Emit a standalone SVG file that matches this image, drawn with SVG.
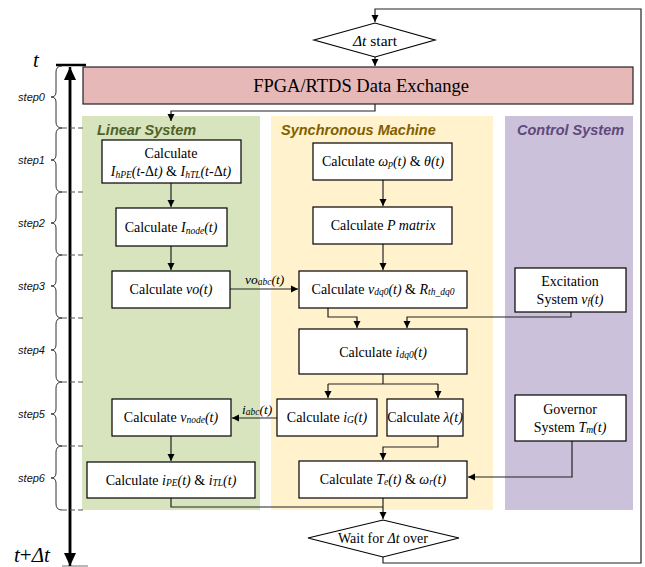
<svg xmlns="http://www.w3.org/2000/svg" width="645" height="567" viewBox="0 0 645 567">
<style>
.box{fill:#fff;stroke:#000;stroke-width:1.2}
.t{font-family:"Liberation Serif",serif;font-size:14px;fill:#000;text-anchor:middle}
.i{font-style:italic}
.sub{font-size:9.5px}
.ttl{font-family:"Liberation Sans",Arial,sans-serif;font-size:14.5px;font-weight:bold;font-style:italic}
.c{fill:none;stroke:#222;stroke-width:1.2}
.step{font-family:"Liberation Sans",Arial,sans-serif;font-size:11px;font-style:italic;text-anchor:end;fill:#111}
.br{fill:none;stroke:#333;stroke-width:1}
.dash{stroke:#555;stroke-width:1.2;stroke-dasharray:5 3}
</style>
<defs>
<marker id="ah" markerWidth="8" markerHeight="8" refX="7" refY="4" orient="auto" markerUnits="userSpaceOnUse">
<path d="M0,0.5 L7,4 L0,7.5 Z" fill="#000"/>
</marker>
<marker id="big" markerWidth="14" markerHeight="14" refX="13" refY="6" orient="auto" markerUnits="userSpaceOnUse">
<path d="M0,0 L13,6 L0,12 Z" fill="#000"/>
</marker>
</defs>
<rect width="645" height="567" fill="#fff"/>

<!-- panels -->
<g id="panels">
<rect x="82" y="116" width="178" height="394" fill="#d7e4bd"/>
<rect x="271" y="116" width="222" height="394" fill="#fff2cc"/>
<rect x="505" y="116" width="128" height="394" fill="#ccc1da"/>
<text class="ttl" x="97" y="135" fill="#4f6228">Linear System</text>
<text class="ttl" x="281" y="135" fill="#7f6000">Synchronous Machine</text>
<text class="ttl" x="517" y="135" fill="#5f497a">Control System</text>
</g>

<!-- timeline -->
<g id="timeline">
<line x1="56" y1="65" x2="86" y2="65" stroke="#000" stroke-width="2.5"/>
<line x1="62" y1="566" x2="88" y2="566" stroke="#888" stroke-width="1.2"/>
<line x1="70" y1="560" x2="70" y2="67" stroke="#000" stroke-width="2.5" marker-end="url(#big)"/>
<line x1="70" y1="75" x2="70" y2="566" stroke="#000" stroke-width="2.5" marker-end="url(#big)"/>
<text x="33" y="67" font-family="Liberation Serif,serif" font-size="21" font-style="italic">t</text>
<text x="14" y="562" font-family="Liberation Serif,serif" font-size="21"><tspan font-style="italic">t</tspan>+<tspan font-style="italic">Δt</tspan></text>
<g class="dash">
<line x1="62" y1="128" x2="83" y2="128"/>
<line x1="62" y1="192" x2="83" y2="192"/>
<line x1="62" y1="255" x2="83" y2="255"/>
<line x1="62" y1="318" x2="83" y2="318"/>
<line x1="62" y1="382" x2="83" y2="382"/>
<line x1="62" y1="446" x2="83" y2="446"/>
<line x1="62" y1="510" x2="83" y2="510"/>
</g>
<path class="br" d="M62,66 Q56,66 56,72 L56,92 Q56,97 51,97 Q56,97 56,102 L56,122 Q56,128 62,128"/>
<path class="br" d="M62,128 Q56,128 56,134 L56,155 Q56,160 51,160 Q56,160 56,165 L56,186 Q56,192 62,192"/>
<path class="br" d="M62,192 Q56,192 56,198 L56,218 Q56,223 51,223 Q56,223 56,228 L56,249 Q56,255 62,255"/>
<path class="br" d="M62,255 Q56,255 56,261 L56,281 Q56,286 51,286 Q56,286 56,291 L56,312 Q56,318 62,318"/>
<path class="br" d="M62,318 Q56,318 56,324 L56,345 Q56,350 51,350 Q56,350 56,355 L56,376 Q56,382 62,382"/>
<path class="br" d="M62,382 Q56,382 56,388 L56,409 Q56,414 51,414 Q56,414 56,419 L56,440 Q56,446 62,446"/>
<path class="br" d="M62,446 Q56,446 56,452 L56,473 Q56,478 51,478 Q56,478 56,483 L56,504 Q56,510 62,510"/>
<text class="step" x="45" y="101">step0</text>
<text class="step" x="45" y="164">step1</text>
<text class="step" x="45" y="227">step2</text>
<text class="step" x="45" y="290">step3</text>
<text class="step" x="45" y="354">step4</text>
<text class="step" x="45" y="418">step5</text>
<text class="step" x="45" y="482">step6</text>
</g>

<!-- connectors -->
<g id="connectors">
<path class="c" d="M375,57 V66" marker-end="url(#ah)"/>
<path class="c" d="M375,104 V111 H171 V121" marker-end="url(#ah)"/>
<path class="c" d="M171,183 V207" marker-end="url(#ah)"/>
<path class="c" d="M171,246 V270" marker-end="url(#ah)"/>
<path class="c" d="M383,180 V206" marker-end="url(#ah)"/>
<path class="c" d="M383,244 V270" marker-end="url(#ah)"/>
<path class="c" d="M230,289 H298" marker-end="url(#ah)"/>
<path class="c" d="M328,308 V317 H357 V328" marker-end="url(#ah)"/>
<path class="c" d="M571,312 V317 H407 V328" marker-end="url(#ah)"/>
<path class="c" d="M383,374 V384"/>
<path class="c" d="M328,384 H438"/>
<path class="c" d="M328,384 V398" marker-end="url(#ah)"/>
<path class="c" d="M438,384 V398" marker-end="url(#ah)"/>
<path class="c" d="M277,418 H232" marker-end="url(#ah)"/>
<path class="c" d="M171,436 V461" marker-end="url(#ah)"/>
<path class="c" d="M438,436 V447 H383 V460" marker-end="url(#ah)"/>
<path class="c" d="M572,441 V477 H468" marker-end="url(#ah)"/>
<path class="c" d="M171,498 V507 H383"/>
<path class="c" d="M383,498 V519" marker-end="url(#ah)"/>
<path class="c" d="M383,557 V563 H641 V9 H375 V22" marker-end="url(#ah)"/>
<text x="245" y="284" font-family="Liberation Serif,serif" font-size="13.5" font-style="italic">vo<tspan class="sub" dy="1">abc</tspan><tspan dy="-1">(t)</tspan></text>
<text x="242" y="414" font-family="Liberation Serif,serif" font-size="13.5" font-style="italic">i<tspan class="sub" dy="1">abc</tspan><tspan dy="-1">(t)</tspan></text>
</g>

<!-- nodes -->
<g id="start">
<polygon points="314,40 375,23 435,40 375,57" fill="#fff" stroke="#000" stroke-width="1.2"/>
<text class="t" x="375" y="46" style="font-size:15.5px"><tspan class="i">Δt</tspan> start</text>
</g>
<g id="fpga">
<rect x="83" y="67" width="550" height="37" fill="#e6b9b8" stroke="#222" stroke-width="1.2"/>
<text class="t" x="361" y="92" style="font-size:18.5px">FPGA/RTDS Data Exchange</text>
</g>
<g id="n1">
<rect class="box" x="102" y="140" width="139" height="43"/>
<text class="t" x="171" y="158">Calculate</text>
<text class="t" x="171" y="176"><tspan class="i">I<tspan class="sub" dy="2">hPE</tspan><tspan dy="-2">(t-</tspan></tspan>Δ<tspan class="i">t)</tspan> &amp; <tspan class="i">I<tspan class="sub" dy="2">hTL</tspan><tspan dy="-2">(t-</tspan></tspan>Δ<tspan class="i">t)</tspan></text>
</g>
<g id="n2">
<rect class="box" x="116" y="208" width="111" height="38"/>
<text class="t" x="171" y="232">Calculate <tspan class="i">I<tspan class="sub" dy="2">node</tspan><tspan dy="-2">(t)</tspan></tspan></text>
</g>
<g id="n3">
<rect class="box" x="112" y="271" width="118" height="37"/>
<text class="t" x="171" y="294">Calculate <tspan class="i">vo(t)</tspan></text>
</g>
<g id="n4">
<rect class="box" x="112" y="399" width="119" height="37"/>
<text class="t" x="171" y="422">Calculate <tspan class="i">v<tspan class="sub" dy="1">node</tspan><tspan dy="-1">(t)</tspan></tspan></text>
</g>
<g id="n5">
<rect class="box" x="87" y="462" width="168" height="36"/>
<text class="t" x="171" y="485">Calculate <tspan class="i">i<tspan class="sub" dy="1">PE</tspan><tspan dy="-1">(t)</tspan></tspan> &amp; <tspan class="i">i<tspan class="sub" dy="1">TL</tspan><tspan dy="-1">(t)</tspan></tspan></text>
</g>
<g id="n6">
<rect class="box" x="313" y="143" width="139" height="37"/>
<text class="t" x="383" y="166">Calculate <tspan class="i">ω<tspan class="sub" dy="1">p</tspan><tspan dy="-1">(t)</tspan></tspan> &amp; <tspan class="i">θ(t)</tspan></text>
</g>
<g id="n7">
<rect class="box" x="313" y="207" width="139" height="37"/>
<text class="t" x="383" y="230">Calculate <tspan class="i">P matrix</tspan></text>
</g>
<g id="n8">
<rect class="box" x="299" y="271" width="168" height="37"/>
<text class="t" x="383" y="294">Calculate <tspan class="i">v<tspan class="sub" dy="1">dq0</tspan><tspan dy="-1">(t)</tspan></tspan> &amp; <tspan class="i">R<tspan class="sub" dy="1">th_dq0</tspan></tspan></text>
</g>
<g id="n9">
<rect class="box" x="299" y="329" width="168" height="45"/>
<text class="t" x="383" y="357">Calculate <tspan class="i">i<tspan class="sub" dy="1">dq0</tspan><tspan dy="-1">(t)</tspan></tspan></text>
</g>
<g id="n10">
<rect class="box" x="277" y="399" width="100" height="37"/>
<text class="t" x="327" y="422">Calculate <tspan class="i">i<tspan class="sub" dy="1">G</tspan><tspan dy="-1">(t)</tspan></tspan></text>
</g>
<g id="n11">
<rect class="box" x="387" y="399" width="76" height="37"/>
<text class="t" x="425" y="422">Calculate <tspan class="i">λ(t)</tspan></text>
</g>
<g id="n12">
<rect class="box" x="299" y="461" width="168" height="37"/>
<text class="t" x="383" y="484">Calculate <tspan class="i">T<tspan class="sub" dy="1">e</tspan><tspan dy="-1">(t)</tspan></tspan> &amp; <tspan class="i">ω<tspan class="sub" dy="1">r</tspan><tspan dy="-1">(t)</tspan></tspan></text>
</g>
<g id="n13">
<rect class="box" x="515" y="268" width="111" height="44"/>
<text class="t" x="570" y="286">Excitation</text>
<text class="t" x="570" y="304">System <tspan class="i">v<tspan class="sub" dy="1">f</tspan><tspan dy="-1">(t)</tspan></tspan></text>
</g>
<g id="n14">
<rect class="box" x="515" y="395" width="111" height="46"/>
<text class="t" x="570" y="414">Governor</text>
<text class="t" x="570" y="432">System <tspan class="i">T<tspan class="sub" dy="1">m</tspan><tspan dy="-1">(t)</tspan></tspan></text>
</g>
<g id="wait">
<polygon points="308,538 383,520 459,538 383,557" fill="#fff" stroke="#000" stroke-width="1.2"/>
<text class="t" x="383" y="543">Wait for <tspan class="i">Δt</tspan> over</text>
</g>
</svg>
